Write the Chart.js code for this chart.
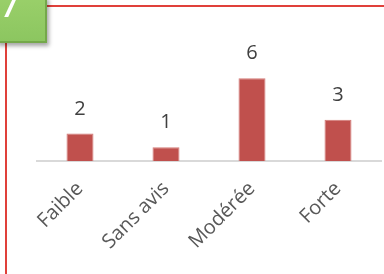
<!DOCTYPE html>
<html>
<head>
<meta charset="utf-8">
<script src="https://cdn.jsdelivr.net/npm/chart.js@4.4.0/dist/chart.umd.min.js"></script>
<style>
  html, body { margin: 0; padding: 0; background: #fff; overflow: hidden; }
  #wrap { position: relative; width: 384px; height: 274px; }
  #chart { position: absolute; left: 0; top: 0; }
  .frameTop { position: absolute; left: 46px; top: 5px; width: 338px; height: 2px; background: #e0403a; }
  .frameLeft { position: absolute; left: 5px; top: 40px; width: 2px; height: 234px; background: #e0403a; }
  .badge { position: absolute; left: -4px; top: -4px; width: 49px; height: 45px;
    background: linear-gradient(#9ad06a, #8cc660); border-right: 2px solid #74a84a; border-bottom: 2px solid #74a84a;
    box-shadow: 2px 3px 4px rgba(0,0,0,0.35); overflow: hidden; }
  .badge span { position: absolute; left: 2px; top: -26px; font-family: "Open Sans", sans-serif; font-size: 44px; color: #fff; }
</style>
</head>
<body>
<div id="wrap">
  <canvas id="chart" width="384" height="270"></canvas>
  <div class="frameTop"></div>
  <div class="frameLeft"></div>
  <div class="badge"><span>7</span></div>
</div>
<script>
var categories = ["Faible", "Sans avis", "Modérée", "Forte"];
var values = [2, 1, 6, 3];

// draws the count above each bar
var valueLabels = {
    id: "valueLabels",
    afterDatasetsDraw: function(chart) {
        var ctx = chart.ctx;
        var meta = chart.getDatasetMeta(0);
        ctx.save();
        ctx.font = "20px 'Open Sans', sans-serif";
        ctx.fillStyle = "#404040";
        ctx.textAlign = "center";
        ctx.textBaseline = "alphabetic";
        meta.data.forEach(function(bar, i) {
            ctx.fillText(String(values[i]), bar.x, bar.y - 19);
        });
        ctx.restore();
    }
};

var ctx0 = document.getElementById("chart");
var myChart = new Chart(ctx0, {
    type: "bar",
    data: {
        labels: categories,
        datasets: [{
            data: values,
            backgroundColor: "#c0504d",
            borderColor: "#d47a77",
            borderWidth: 1,
            categoryPercentage: 1,
            barPercentage: 0.314
        }]
    },
    options: {
        responsive: false,
        animation: false,
        layout: { padding: { left: 37, right: 3, top: 37, bottom: 0 } },
        plugins: { legend: { display: false }, tooltip: { enabled: false } },
        scales: {
            y: { display: false, min: 0, max: 9 },
            x: {
                grid: { display: false, drawTicks: false },
                border: { display: true, color: "#d9d9d9", width: 2 },
                ticks: {
                    minRotation: 45, maxRotation: 45,
                    padding: 16,
                    color: "#595959",
                    font: { family: "'Open Sans', sans-serif", size: 20 }
                }
            }
        }
    },
    plugins: [valueLabels]
});
</script>
</body>
</html>
